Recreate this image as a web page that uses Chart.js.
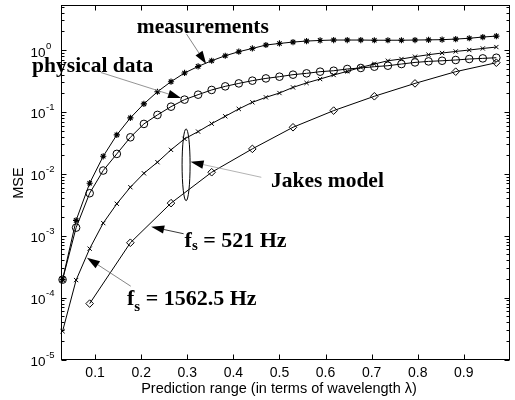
<!DOCTYPE html>
<html><head><meta charset="utf-8">
<script src="https://cdn.jsdelivr.net/npm/chart.js@4.4.1/dist/chart.umd.min.js"></script>
<style>html,body{margin:0;padding:0;background:#fff;}#wrap{width:515px;height:400px;}</style>
</head><body><div id="wrap"><canvas id="c" width="515" height="400"></canvas></div>
<script>
// ---- data ----
const predictionRange = [0.0294,0.0588,0.0882,0.1176,0.1471,0.1765,0.2059,0.2353,0.2647,0.2941,0.3235,0.3529,0.3824,0.4118,0.4412,0.4706,0.5,0.5294,0.5588,0.5882,0.6176,0.6471,0.6765,0.7059,0.7353,0.7647,0.7941,0.8235,0.8529,0.8824,0.9118,0.9412,0.9706];
const measurements = [1.95e-4,1.77e-3,7.05e-3,0.0192,0.0426,0.080,0.135,0.212,0.308,0.426,0.543,0.671,0.809,0.94,1.06,1.205,1.277,1.345,1.396,1.428,1.45,1.45,1.45,1.44,1.44,1.44,1.45,1.46,1.47,1.503,1.55,1.62,1.68];
const physicalData = [1.95e-4,1.35e-3,4.86e-3,0.0113,0.0210,0.0389,0.064,0.0895,0.1216,0.158,0.190,0.2265,0.259,0.289,0.32,0.348,0.371,0.40,0.42,0.447,0.463,0.494,0.513,0.538,0.558,0.594,0.631,0.655,0.671,0.69,0.716,0.733,0.751];
const jakes521 = [2.86e-5,1.92e-4,6.17e-4,1.6e-3,3.28e-3,6.08e-3,0.0102,0.0154,0.0244,0.0367,0.0481,0.0647,0.085,0.1117,0.143,0.172,0.202,0.249,0.294,0.34,0.395,0.452,0.524,0.594,0.671,0.716,0.78,0.84,0.895,0.948,1.0,1.06,1.117];
const predictionRange1562 = [0.0882,0.1765,0.2647,0.3529,0.4412,0.5294,0.6176,0.7059,0.7941,0.8824,0.9706];
const jakes1562 = [8e-5,7.7e-4,3.36e-3,0.0106,0.0253,0.0565,0.105,0.179,0.289,0.447,0.624];
const xTicks = [0.1,0.2,0.3,0.4,0.5,0.6,0.7,0.8,0.9];
const xTickLabels = ['0.1','0.2','0.3','0.4','0.5','0.6','0.7','0.8','0.9'];
const yTickExponents = [-5,-4,-3,-2,-1,0];
const xAxisTitle = 'Prediction range (in terms of wavelength \u03bb)';
const yAxisTitle = 'MSE';
const xLimits = [0.026, 1.0];
const yLimits = [1e-5, 5.32];

// annotations in data coordinates
const annotations = [
  {text:'measurements', at:[0.1903,1.915], from:[0.2984,1.81], tip:[0.341,0.594], line:'#777'},
  {text:'physical data', at:[-0.0367,0.4335], from:[0.1125,0.4335], tip:[0.2865,0.168], line:'#888'},
  {text:'Jakes model', at:[0.4816,0.00612], from:[0.4606,0.00879], tip:[0.3071,0.01563], line:'#aaa'},
  {text:'521 Hz', sub:true, subDrop:3, at:[0.2941,6.59e-4], from:[0.292,1.076e-3], tip:[0.2217,1.396e-3], line:'#222'},
  {text:'1562.5 Hz', sub:true, subDrop:6, at:[0.1693,7.56e-5], from:[0.1773,1.53e-4], tip:[0.0822,4.42e-4], line:'#777'}
];
const ellipseSpan = {x:0.2974, yTop:0.0532, yBottom:0.00367};

const toXY = (xs, ys) => xs.map((x,i)=>({x:x, y:ys[i]}));

const axesPlugin = {
  id:'axesPlugin',
  afterDatasetsDraw(chart){
    const {ctx, chartArea:a, scales:{x,y}} = chart;
    const P = (d)=>[x.getPixelForValue(d[0]), y.getPixelForValue(d[1])];
    ctx.save();
    // frame
    ctx.strokeStyle='#000'; ctx.lineWidth=1;
    const L=Math.round(a.left)+0.5, R=Math.round(a.right)-0.5, T=Math.round(a.top)+0.5, B=Math.round(a.bottom)-0.5;
    ctx.strokeRect(L,T,R-L,B-T);
    // x ticks
    ctx.beginPath();
    xTicks.forEach(v=>{const px=Math.round(x.getPixelForValue(v))+0.5; ctx.moveTo(px,B); ctx.lineTo(px,B-5); ctx.moveTo(px,T); ctx.lineTo(px,T+5);});
    // y ticks
    yTickExponents.forEach(e=>{
      const base=Math.pow(10,e);
      const py=Math.round(y.getPixelForValue(base))+0.5;
      ctx.moveTo(L,py); ctx.lineTo(L+5,py); ctx.moveTo(R,py); ctx.lineTo(R-5,py);
      for(let m=2;m<=9;m++){const v=m*base; if(v>yLimits[1]) break; const q=Math.round(y.getPixelForValue(v))+0.5; ctx.moveTo(L,q); ctx.lineTo(L+3,q); ctx.moveTo(R,q); ctx.lineTo(R-3,q);}
    });
    ctx.stroke();
    // tick labels
    ctx.fillStyle='#000';
    ctx.font='14px "Liberation Sans", Arial, sans-serif';
    ctx.textAlign='center'; ctx.textBaseline='alphabetic';
    xTicks.forEach((v,i)=>{ctx.fillText(xTickLabels[i], x.getPixelForValue(v), 377);});
    yTickExponents.forEach(e=>{
      const py=y.getPixelForValue(Math.pow(10,e));
      ctx.font='13.5px "Liberation Sans", Arial, sans-serif';
      ctx.textAlign='right';
      ctx.fillText('10', 45.5, py+6.5);
      ctx.font='9.5px "Liberation Sans", Arial, sans-serif';
      ctx.textAlign='left';
      ctx.fillText(String(e), 46, py-1.5);
    });
    // axis titles
    ctx.font='14.5px "Liberation Sans", Arial, sans-serif';
    ctx.textAlign='center';
    ctx.fillText(xAxisTitle, 279, 392.5);
    ctx.save(); ctx.translate(19,183); ctx.rotate(-Math.PI/2); ctx.textBaseline='middle'; ctx.fillText(yAxisTitle,0,0); ctx.restore();

    // ellipse
    const ex=x.getPixelForValue(ellipseSpan.x), et=y.getPixelForValue(ellipseSpan.yTop), eb=y.getPixelForValue(ellipseSpan.yBottom);
    ctx.beginPath(); ctx.lineWidth=1; ctx.strokeStyle='#000';
    ctx.ellipse(ex,(et+eb)/2,4,(eb-et)/2,0,0,Math.PI*2); ctx.stroke();

    // annotations
    annotations.forEach(an=>{
      const [fx,fy]=P(an.from), [tx,ty]=P(an.tip);
      const ang=Math.atan2(ty-fy,tx-fx), len=13, hw=4.2;
      const bx=tx-len*Math.cos(ang), by=ty-len*Math.sin(ang);
      ctx.beginPath(); ctx.strokeStyle=an.line; ctx.lineWidth=0.9;
      ctx.moveTo(fx,fy); ctx.lineTo(bx,by); ctx.stroke();
      ctx.beginPath(); ctx.fillStyle='#000';
      ctx.moveTo(tx,ty);
      ctx.lineTo(bx+hw*Math.sin(ang), by-hw*Math.cos(ang));
      ctx.lineTo(bx-hw*Math.sin(ang), by+hw*Math.cos(ang));
      ctx.closePath(); ctx.fill();
      const [ax,ay]=P(an.at);
      ctx.fillStyle='#000'; ctx.textAlign='left'; ctx.textBaseline='alphabetic';
      if(an.sub){
        ctx.font='bold 22px "Liberation Serif", "Times New Roman", serif';
        ctx.fillText('f', ax, ay);
        let cx=ax+ctx.measureText('f').width;
        ctx.font='bold 15px "Liberation Serif", "Times New Roman", serif';
        ctx.fillText('s', cx, ay+an.subDrop);
        cx+=ctx.measureText('s').width;
        ctx.font='bold 22px "Liberation Serif", "Times New Roman", serif';
        ctx.fillText(' = '+an.text, cx, ay);
      } else {
        ctx.font='bold 21.5px "Liberation Serif", "Times New Roman", serif';
        ctx.fillText(an.text, ax, ay);
      }
    });
    ctx.restore();
  }
};

const common = {borderColor:'#000', borderWidth:1, pointBorderColor:'#000', pointBackgroundColor:'rgba(0,0,0,0)', pointBorderWidth:1, tension:0, clip:false, fill:false};
new Chart(document.getElementById('c'), {
  type:'line',
  data:{datasets:[
    Object.assign({label:'measurements', data:toXY(predictionRange, measurements), pointStyle:'star'}, common, {pointRadius:3.1, pointBorderWidth:1.1}),
    Object.assign({label:'physical data', data:toXY(predictionRange, physicalData), pointStyle:'circle', pointRadius:3.8}, common),
    Object.assign({label:'Jakes model, fs = 521 Hz', data:toXY(predictionRange, jakes521), pointStyle:'crossRot', pointRadius:3}, common),
    Object.assign({label:'Jakes model, fs = 1562.5 Hz', data:toXY(predictionRange1562, jakes1562), pointStyle:'rectRot', pointRadius:3.8}, common)
  ]},
  options:{
    responsive:false, animation:false, devicePixelRatio:1,
    layout:{padding:{left:61, right:3.5, top:4, bottom:40.5}},
    plugins:{legend:{display:false}, tooltip:{enabled:false}},
    scales:{
      x:{type:'linear', min:xLimits[0], max:xLimits[1], display:false},
      y:{type:'logarithmic', min:yLimits[0], max:yLimits[1], display:false}
    }
  },
  plugins:[axesPlugin]
});
</script></body></html>
